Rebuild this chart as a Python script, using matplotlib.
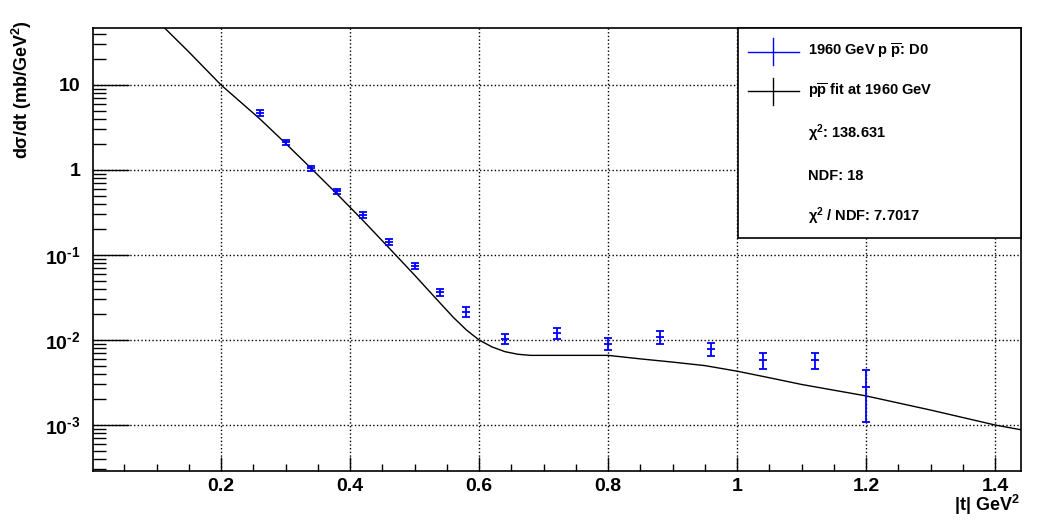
import matplotlib
matplotlib.use("Agg")
import matplotlib.pyplot as plt
from matplotlib.ticker import FixedLocator, FixedFormatter, LogLocator, MultipleLocator, NullFormatter
from matplotlib.patches import Rectangle

plt.rcParams['font.family'] = ['Liberation Sans', 'DejaVu Sans']
plt.rcParams['font.weight'] = 'bold'
plt.rcParams['mathtext.fontset'] = 'custom'
plt.rcParams['mathtext.rm'] = 'Liberation Sans:bold'
plt.rcParams['mathtext.bf'] = 'Liberation Sans:bold'
plt.rcParams['mathtext.it'] = 'Liberation Sans:bold'

# D0 data, 1960 GeV p pbar
t_data = [0.26, 0.30, 0.34, 0.38, 0.42, 0.46, 0.50, 0.54, 0.58,
          0.64, 0.72, 0.80, 0.88, 0.96, 1.04, 1.12, 1.20]
dsdt = [4.7, 2.13, 1.05, 0.56, 0.295, 0.142, 0.074, 0.0367, 0.0215,
        0.0104, 0.0120, 0.0091, 0.0109, 0.0079, 0.0058, 0.0058, 0.0028]
dsdt_err = [0.35, 0.15, 0.07, 0.04, 0.022, 0.011, 0.006, 0.0035, 0.003,
            0.0013, 0.0018, 0.0015, 0.0018, 0.0014, 0.0012, 0.0012, 0.0017]

# fit curve
t_fit = [0.113, 0.15, 0.20, 0.26, 0.30, 0.34, 0.38, 0.42, 0.46, 0.50,
         0.54, 0.56, 0.58, 0.60, 0.62, 0.64, 0.66, 0.68, 0.80, 0.85,
         0.90, 0.95, 1.00, 1.05, 1.10, 1.20, 1.30, 1.40, 1.44]
dsdt_fit = [46.4, 24.5, 10.0, 4.0, 2.06, 1.04, 0.52, 0.255, 0.122, 0.058,
            0.027, 0.0185, 0.0132, 0.0100, 0.0083, 0.0073, 0.0068, 0.0066, 0.0066, 0.0060,
            0.0055, 0.0050, 0.0043, 0.0036, 0.0030, 0.0022, 0.0015, 0.00100, 0.00088]

x_ticklabels = ['', '0.2', '0.4', '0.6', '0.8', '1', '1.2', '1.4']
y_ticklabels = [r'10$^{‐3}$', r'10$^{‐2}$', r'10$^{‐1}$', '1', '10']

legend_labels = [r'1960 GeV p $\overline{\mathrm{p}}$: D0',
                 r'p$\overline{\mathrm{p}}$ fit at 1960 GeV',
                 r'χ$^{2}$: 138.631', 'NDF: 18', r'χ$^{2}$ / NDF: 7.7017']

fig = plt.figure(figsize=(10.41, 5.20), dpi=100)
ax = fig.add_axes([93.3 / 1041, 1 - 471 / 520, (1021 - 93.3) / 1041, (471 - 28.3) / 520])

ax.plot(t_fit, dsdt_fit, color='black', lw=1.0, zorder=3)
ax.errorbar(t_data, dsdt, yerr=dsdt_err, fmt='_', color='blue', ms=5.8, mew=1.3,
            elinewidth=1.3, capsize=2.9, capthick=1.3, zorder=4)

ax.set_yscale('log')
ax.set_xlim(0.002, 1.44)
ax.set_ylim(2.88e-4, 46.4)

ax.xaxis.set_major_locator(FixedLocator([0.0, 0.2, 0.4, 0.6, 0.8, 1.0, 1.2, 1.4]))
ax.xaxis.set_major_formatter(FixedFormatter(x_ticklabels))
ax.xaxis.set_minor_locator(MultipleLocator(0.05))

ax.yaxis.set_major_locator(FixedLocator([1e-3, 1e-2, 1e-1, 1, 10]))
ax.yaxis.set_major_formatter(FixedFormatter(y_ticklabels))
ax.yaxis.set_minor_locator(LogLocator(subs=range(2, 10)))
ax.yaxis.set_minor_formatter(NullFormatter())

ax.tick_params(axis='x', which='major', direction='in', length=10, width=1, labelsize=14, pad=5)
ax.tick_params(axis='x', which='minor', direction='in', length=5, width=1)
ax.tick_params(axis='y', which='major', direction='in', length=26, width=1, labelsize=14, pad=9)
ax.tick_params(axis='y', which='minor', direction='in', length=9.5, width=1)

ax.grid(True, which='major', color='black', linestyle=':', linewidth=1.0)
for s in ax.spines.values():
    s.set_linewidth(1.2)

fig.text(1020 / 1041, 1 - 505 / 520, r'|t| GeV$^{2}$', ha='right', va='center', fontsize=13)
fig.text(22 / 1041, 1 - 20 / 520, r'dσ/dt (mb/GeV$^{2}$)', rotation=90, ha='center', va='top', fontsize=13)

# legend box
ax.add_patch(Rectangle((0.695, 0.526), 0.305, 0.474, transform=ax.transAxes,
                       facecolor='white', edgecolor='black', lw=1.2, zorder=5, clip_on=False))
entry_y = [0.947, 0.858, 0.763, 0.666, 0.575]
marker_colors = ['blue', 'black']
for i, c in enumerate(marker_colors):
    ax.plot([0.7056, 0.761], [entry_y[i], entry_y[i]], color=c, lw=1, transform=ax.transAxes, zorder=6)
    ax.plot([0.733, 0.733], [entry_y[i] - 0.0305, entry_y[i] + 0.0305], color=c, lw=1,
            transform=ax.transAxes, zorder=6)
for lab, y in zip(legend_labels, entry_y):
    ax.text(0.770, y, lab, transform=ax.transAxes, ha='left', va='center', fontsize=10.5, zorder=7)

fig.savefig('out.png', dpi=100)
